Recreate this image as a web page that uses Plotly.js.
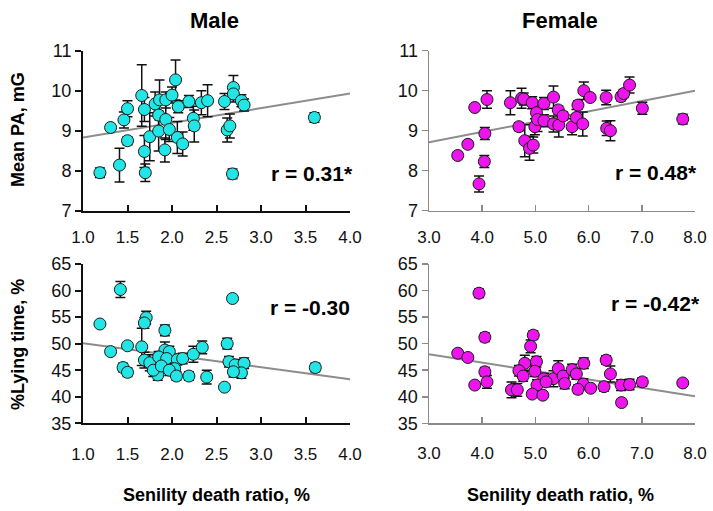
<!DOCTYPE html>
<html><head><meta charset="utf-8">
<script src="https://cdn.plot.ly/plotly-3.0.1.min.js"></script>
<style>html,body{margin:0;padding:0;background:#fff}</style>
</head><body><div id="chart" style="width:713px;height:511px"></div>
<script>
// Male: senility death ratio (%) vs mean PA (mG)
const malePA_x = [1.19,1.31,1.41,1.46,1.50,1.50,1.66,1.69,1.69,1.70,1.75,1.81,1.85,1.86,1.85,1.92,1.93,1.93,1.97,2.00,2.04,2.07,2.06,2.12,2.19,2.24,2.25,2.33,2.40,2.59,2.62,2.65,2.68,2.69,2.69,2.78,2.81,3.60];
const malePA_y = [7.95,9.08,8.14,9.27,9.55,8.75,9.88,9.53,8.48,7.95,8.85,9.67,9.39,9.77,8.99,8.52,9.77,9.28,9.03,9.89,10.27,9.60,8.83,8.67,9.73,9.31,9.12,9.70,9.75,9.73,9.02,9.12,7.92,10.08,9.92,9.75,9.64,9.33];
const malePA_err = [0.12,0.05,0.42,0.2,0.2,0.1,0.77,0.3,0.4,0.22,0.6,0.3,0.4,0.5,0.5,0.3,0.2,0.5,0.3,0.2,0.5,0.15,0.4,0.3,0.15,0.3,0.4,0.3,0.4,0.2,0.3,0.3,0.12,0.3,0.2,0.15,0.15,0.12];
// Male: lying time (%)
const maleLy_x = [1.42,1.19,1.31,1.50,1.45,1.50,1.71,1.69,1.66,1.69,1.75,1.84,1.92,1.92,1.97,1.85,1.94,2.06,2.03,2.12,2.19,2.24,2.34,2.39,2.59,2.62,2.68,2.64,2.71,2.81,2.78,2.69,3.61,1.79,1.88,1.97,2.05];
const maleLy_y = [60.2,53.7,48.5,49.6,45.5,44.6,54.9,53.9,49.4,46.9,46.4,44.1,52.5,48.8,48.5,47.5,47.2,47.0,45.3,47.2,43.9,48.0,49.3,43.7,41.8,50.0,58.5,46.6,46.0,46.3,44.5,44.7,45.5,45.0,45.8,45.0,43.9];
const maleLy_err = [1.5,0.3,0.3,0.3,0.8,0.8,1.2,1.0,3.5,1.5,1.5,1.0,1.0,1.5,1.0,1.0,1.5,1.0,1.0,1.0,0.8,1.5,1.2,1.3,0.3,1.0,0.5,1.0,1.0,1.0,1.0,1.0,0.8,1.2,1.0,1.0,0.8];
// Female: senility death ratio (%) vs mean PA (mG)
const femPA_x = [3.54,3.73,3.86,3.94,4.04,4.05,4.09,4.53,4.69,4.74,4.78,4.80,4.89,4.96,4.94,4.99,5.02,5.04,5.16,5.16,5.34,5.34,5.43,5.44,5.52,5.69,5.77,5.80,5.89,5.91,6.03,6.33,6.34,6.41,6.61,6.66,6.77,7.01,7.77];
const femPA_y = [8.38,8.66,9.58,7.67,8.23,8.93,9.78,9.70,9.10,9.81,9.79,8.75,8.56,8.64,9.70,9.10,9.45,9.28,9.68,9.25,9.84,9.17,9.52,9.14,9.37,9.10,9.33,9.64,9.17,10.00,9.83,9.83,9.06,9.00,9.85,9.93,10.14,9.56,9.29];
const femPA_err = [0.08,0.08,0.05,0.2,0.15,0.15,0.22,0.3,0.1,0.25,0.15,0.4,0.3,0.2,0.15,0.2,0.2,0.3,0.15,0.15,0.28,0.2,0.1,0.3,0.1,0.2,0.2,0.1,0.3,0.22,0.05,0.18,0.18,0.25,0.1,0.1,0.2,0.15,0.12];
// Female: lying time (%)
const femLy_x = [3.94,4.05,3.54,3.73,4.05,4.09,3.86,4.96,4.91,4.80,4.69,4.77,5.02,4.99,5.16,5.34,5.43,5.52,5.69,5.91,5.77,6.33,6.41,7.01,7.77,5.03,5.55,5.90,6.61,6.77,4.55,4.66,4.94,5.14,5.20,5.80,6.04,6.29,6.62];
const femLy_y = [59.5,51.2,48.2,47.4,44.7,42.8,42.2,51.6,49.5,46.3,44.9,43.9,46.6,44.8,43.4,43.4,45.3,43.9,45.1,46.3,44.3,46.9,44.3,42.8,42.6,42.2,42.5,42.4,42.2,42.3,41.3,41.3,40.5,40.3,42.8,41.4,41.6,41.9,38.9];
const femLy_err = [0.8,0.8,0.3,0.3,0.8,1.2,0.3,0.8,1.2,1.5,1.0,1.0,1.0,1.0,1.0,1.5,1.5,1.0,1.0,1.0,1.0,0.8,1.5,0.8,0.6,1.0,1.0,1.0,1.0,1.0,1.5,1.2,0.5,0.5,0.8,0.8,0.5,0.8,0.3];
// Regression line end points
const maleFitX = [1.0, 4.0];
const maleFitPA = [8.83, 9.93];
const maleFitLy = [50.1, 43.3];
const femFitX = [3.0, 8.0];
const femFitPA = [8.71, 10.0];
const femFitLy = [48.0, 40.1];
const rLabels = ['r = 0.31*', 'r = 0.48*', 'r = -0.30', 'r = -0.42*'];
const panelTitles = ['Male', 'Female'];
const yTitles = ['Mean PA, mG', '%Lying time, %'];
const xTitle = 'Senility death ratio, %';

const CYAN = '#22e6e6', MAG = '#ee14ee', FIT = '#8c8c8c';
const F = 'Liberation Sans Narrow, Liberation Sans, Arial, sans-serif';

function pts(x, y, e, color, xa, ya) {
  return {type: 'scatter', mode: 'markers', x: x, y: y, xaxis: xa, yaxis: ya,
    marker: {size: 12, color: color, line: {color: '#1a1a1a', width: 1}},
    error_y: {type: 'data', array: e, visible: true, color: '#111', thickness: 1.5, width: 5},
    showlegend: false, hoverinfo: 'skip'};
}
function fit(x, y, xa, ya) {
  return {type: 'scatter', mode: 'lines', x: x, y: y, xaxis: xa, yaxis: ya,
    line: {color: FIT, width: 2}, showlegend: false, hoverinfo: 'skip'};
}
const data = [
  fit(maleFitX, maleFitPA, 'x', 'y'),
  pts(malePA_x, malePA_y, malePA_err, CYAN, 'x', 'y'),
  fit(femFitX, femFitPA, 'x2', 'y2'),
  pts(femPA_x, femPA_y, femPA_err, MAG, 'x2', 'y2'),
  fit(maleFitX, maleFitLy, 'x3', 'y3'),
  pts(maleLy_x, maleLy_y, maleLy_err, CYAN, 'x3', 'y3'),
  fit(femFitX, femFitLy, 'x4', 'y4'),
  pts(femLy_x, femLy_y, femLy_err, MAG, 'x4', 'y4')
];

const W = 713, H = 511;
const xL = [83 / W, 350 / W], xR = [429 / W, 695 / W];
const yT = [(H - 210.7) / H, (H - 50.7) / H], yB = [(H - 423.3) / H, (H - 264) / H];
function xax(dom, range, dtick, anchor, lc, lw, standoff) {
  return {domain: dom, range: range, dtick: dtick, tick0: range[0], tickformat: '.1f', anchor: anchor,
    showgrid: false, zeroline: false, showline: true, linecolor: lc, linewidth: lw,
    ticks: 'inside', ticklen: 6, tickwidth: lw, tickcolor: lc, ticklabelstandoff: standoff,
    tickfont: {family: F, size: 17, color: '#111'}, fixedrange: true};
}
function yax(dom, range, dtick, anchor, lc, lw) {
  return {domain: dom, range: range, dtick: dtick, tick0: range[0], anchor: anchor,
    showgrid: false, zeroline: false, showline: true, linecolor: lc, linewidth: lw,
    ticks: 'outside', ticklen: 6, tickwidth: lw, tickcolor: lc,
    tickfont: {family: F, size: 18, color: '#111'}, fixedrange: true};
}
const BL = '#111', GR = '#8a8a8a';
const ann = [];
function txt(t, x, y, size, xanchor, angle) {
  ann.push({text: '<b>' + t + '</b>', x: x, y: y, xref: 'paper', yref: 'paper', showarrow: false,
    xanchor: xanchor || 'center', yanchor: 'middle', textangle: angle || 0,
    font: {family: F, size: size, color: '#000'}});
}
txt(panelTitles[0], 214 / W, (H - 20) / H, 22);
txt(panelTitles[1], 560 / W, (H - 20) / H, 22);
txt(yTitles[0], 18 / W, (H - 130) / H, 18, 'center', -90);
txt(yTitles[1], 18 / W, (H - 345) / H, 18, 'center', -90);
txt(xTitle, 216 / W, (H - 495) / H, 18);
txt(xTitle, 560 / W, (H - 495) / H, 18);
txt(rLabels[0], 355 / W, (H - 173) / H, 21, 'right');
txt(rLabels[1], 699 / W, (H - 172) / H, 21, 'right');
txt(rLabels[2], 352 / W, (H - 307) / H, 21, 'right');
txt(rLabels[3], 702 / W, (H - 303) / H, 21, 'right');

const layout = {
  width: W, height: H, margin: {l: 0, r: 0, t: 0, b: 0},
  paper_bgcolor: '#fff', plot_bgcolor: 'rgba(0,0,0,0)', showlegend: false,
  xaxis: xax(xL, [1, 4], 0.5, 'y', BL, 2, 10),
  yaxis: yax(yT, [7, 11], 1, 'x', BL, 2),
  xaxis2: xax(xR, [3, 8], 1, 'y2', GR, 1.5, 10),
  yaxis2: yax(yT, [7, 11], 1, 'x2', GR, 1.5),
  xaxis3: xax(xL, [1, 4], 0.5, 'y3', BL, 2, 14),
  yaxis3: yax(yB, [35, 65], 5, 'x3', BL, 2),
  xaxis4: xax(xR, [3, 8], 1, 'y4', GR, 1.5, 14),
  yaxis4: yax(yB, [35, 65], 5, 'x4', GR, 1.5),
  annotations: ann
};
Plotly.newPlot('chart', data, layout, {displayModeBar: false, staticPlot: true});
</script></body></html>
